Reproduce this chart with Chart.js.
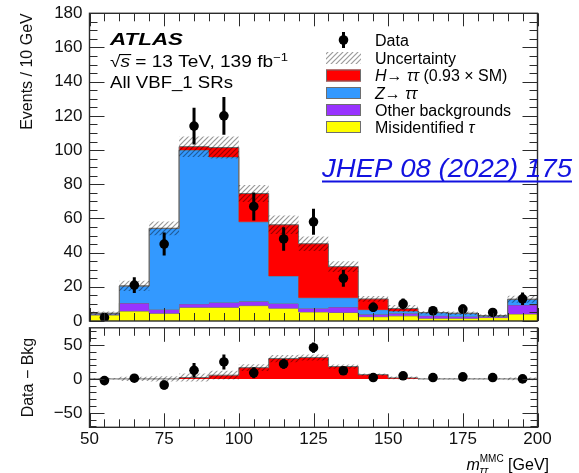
<!DOCTYPE html>
<html>
<head>
<meta charset="utf-8">
<script src="https://cdn.jsdelivr.net/npm/chart.js@4.4.0/dist/chart.umd.min.js"></script>
<style>
  html, body { margin: 0; padding: 0; background: #fff; }
  #wrap { position: relative; width: 579px; height: 473px; overflow: hidden; }
  canvas { position: absolute; left: 0; }
  #top { top: 0; }
  #bottom { top: 323px; }
</style>
</head>
<body>
<div id="wrap">
  <canvas id="top" width="579" height="335"></canvas>
  <canvas id="bottom" width="579" height="150"></canvas>
</div>
<script>
// m_tautau^MMC binning [GeV]
var binEdges = [50, 60, 70, 80, 90, 100, 110, 120, 130, 140, 150, 160, 170, 180, 190, 200];
var binCenters = [55, 65, 75, 85, 95, 105, 115, 125, 135, 145, 155, 165, 175, 185, 195];

// stacked contributions, events / 10 GeV
var misidTau = [3.5, 5.8, 4.5, 8, 8, 9, 7.5, 5.3, 5, 2.5, 3, 1.6, 1.6, 2, 4.1];
var otherBkg = [0.5, 4.7, 2.3, 2, 2.8, 2.5, 2.8, 2.2, 3.2, 1.4, 1.5, 1.5, 1.1, 0.7, 5.3];
var zTauTau = [0.5, 10, 47.4, 90, 85.2, 46.5, 16, 6.1, 5.4, 2.7, 1.3, 1.8, 1.8, 0.4, 3.3];
var hTauTau = [0, 0, 0, 2, 5.5, 16.6, 30, 31.6, 18.2, 6.3, 1.5, 0, 0, 0, 0];
var uncertainty = [1, 3, 4, 6, 6.5, 5, 5.4, 4.3, 3.2, 1.7, 2, 1, 1, 0.8, 2];

// observed events and data - background
var dataCounts = [2, 21, 45, 114, 120, 67, 48, 58, 25, 8, 10, 6, 7, 5, 13];
var dataErrors = [1.4, 4.6, 6.7, 10.7, 11, 8.2, 6.9, 7.6, 5, 2.8, 3.2, 2.4, 2.6, 2.2, 3.6];
var dataMinusBkg = [-2.5, 1, -9, 12.7, 25, 9, 22, 46, 12, 2, 4.6, 2, 3, 2, 0];

// axis ticks
var xTicks = [50, 75, 100, 125, 150, 175, 200];
var yTicksTop = [0, 20, 40, 60, 80, 100, 120, 140, 160, 180];
var yTicksBottom = [-50, 0, 50];

var FONT = "'Liberation Sans', Arial, Helvetica, sans-serif";
var RED = '#ff0000', BLUE = '#3399ff', PURPLE = '#9933ff', YELLOW = '#ffff00';
var EDGE = '#6e6e6e';

Chart.defaults.font.family = FONT;
Chart.defaults.font.size = 17;
Chart.defaults.color = '#111';

function addUp() {
    var arrs = arguments;
    return arrs[0].map(function (_, i) {
        var s = 0;
        for (var k = 0; k < arrs.length; k++) s += arrs[k][i];
        return s;
    });
}

// histogram outline: one point per bin edge, last bin repeated at the upper edge
function stepPoints(vals) {
    return binEdges.map(function (e, i) {
        return { x: e, y: vals[Math.min(i, vals.length - 1)] };
    });
}

function makeHatch() {
    var s = 5;
    var c = document.createElement('canvas');
    c.width = s; c.height = s;
    var g = c.getContext('2d');
    g.strokeStyle = 'rgba(0,0,0,0.40)';
    g.lineWidth = 1.2;
    g.beginPath();
    g.moveTo(0, s); g.lineTo(s, 0);
    g.moveTo(-1, 1); g.lineTo(1, -1);
    g.moveTo(s - 1, s + 1); g.lineTo(s + 1, s - 1);
    g.stroke();
    return document.getElementById('top').getContext('2d').createPattern(c, 'repeat');
}
var hatch = makeHatch();

function layer(label, vals, color, fill, order) {
    return {
        type: 'line', label: label, data: stepPoints(vals), stepped: true,
        fill: fill, backgroundColor: color, borderColor: EDGE, borderWidth: 1,
        pointRadius: 0, order: order
    };
}

function band(center, order) {
    var lo = center.map(function (v, i) { return v - uncertainty[i]; });
    var hi = center.map(function (v, i) { return v + uncertainty[i]; });
    return [
        { type: 'line', label: 'unc-lo', data: stepPoints(lo), stepped: true, fill: false,
          borderWidth: 0, borderColor: 'rgba(0,0,0,0)', pointRadius: 0, order: order + 1 },
        { type: 'line', label: 'Uncertainty', data: stepPoints(hi), stepped: true, fill: '-1',
          backgroundColor: hatch, borderWidth: 0, borderColor: 'rgba(0,0,0,0)', pointRadius: 0, order: order }
    ];
}

function points(vals) {
    return {
        type: 'line', label: 'Data', showLine: false,
        data: binCenters.map(function (x, i) { return { x: x, y: vals[i] }; }),
        pointRadius: 4.8, pointBackgroundColor: '#000', pointBorderColor: '#000', pointBorderWidth: 0,
        errorBars: dataErrors, order: 0
    };
}

// vertical error bars on the data points
var errorBarPlugin = {
    id: 'errorBars',
    afterDatasetsDraw: function (chart) {
        var ctx = chart.ctx, ys = chart.scales.y;
        chart.data.datasets.forEach(function (ds, i) {
            if (!ds.errorBars) return;
            var meta = chart.getDatasetMeta(i);
            ctx.save();
            ctx.strokeStyle = '#000';
            ctx.lineWidth = 3;
            ctx.beginPath();
            meta.data.forEach(function (pt, j) {
                var v = ds.data[j].y, e = ds.errorBars[j];
                ctx.moveTo(pt.x, ys.getPixelForValue(v + e));
                ctx.lineTo(pt.x, ys.getPixelForValue(v - e));
            });
            ctx.stroke();
            ctx.restore();
        });
    }
};

// ROOT-style frame with inward ticks on all four sides
var framePlugin = {
    id: 'frame',
    afterDatasetsDraw: function (chart, args, o) {
        var a = chart.chartArea, ctx = chart.ctx;
        var xs = chart.scales.x, ys = chart.scales.y;
        ctx.save();
        ctx.strokeStyle = '#2b2b2b';
        ctx.lineWidth = 1;
        ctx.beginPath();
        var v, p, len;
        for (v = xs.min; v <= xs.max + 1e-6; v += o.xMinor) {
            p = Math.round(xs.getPixelForValue(v)) + 0.5;
            len = xTicks.indexOf(v) >= 0 ? o.xMajorLen : o.xMinorLen;
            ctx.moveTo(p, a.bottom); ctx.lineTo(p, a.bottom - len);
            ctx.moveTo(p, a.top); ctx.lineTo(p, a.top + len);
        }
        for (v = Math.ceil(ys.min / o.yMinor) * o.yMinor; v <= ys.max + 1e-6; v += o.yMinor) {
            p = Math.round(ys.getPixelForValue(v)) + 0.5;
            len = o.yMajor.indexOf(v) >= 0 ? o.yMajorLen : o.yMinorLen;
            ctx.moveTo(a.left, p); ctx.lineTo(a.left + len, p);
            ctx.moveTo(a.right, p); ctx.lineTo(a.right - len, p);
        }
        ctx.stroke();
        ctx.lineWidth = 1.4;
        ctx.strokeRect(a.left, a.top, a.right - a.left, a.bottom - a.top);
        ctx.restore();
    }
};

// text pieces drawn in a row, optionally squeezed to a given width
function drawRich(ctx, parts, x, y, targetW) {
    var total = 0;
    parts.forEach(function (p) {
        ctx.font = p.font;
        p.w = ctx.measureText(p.t).width;
        total += p.w;
    });
    var k = targetW ? targetW / total : 1;
    ctx.save();
    ctx.translate(x, y);
    ctx.scale(k, 1);
    var cx = 0;
    parts.forEach(function (p) {
        ctx.font = p.font;
        ctx.fillText(p.t, cx, p.dy || 0);
        if (p.over) ctx.fillRect(cx - 1, -p.over, p.w + 2, 1.1);
        cx += p.w;
    });
    ctx.restore();
}

var f16 = '16px ' + FONT, i16 = 'italic 16px ' + FONT;

var labelsPlugin = {
    id: 'labels',
    afterDraw: function (chart) {
        var ctx = chart.ctx;
        ctx.save();
        ctx.fillStyle = '#000';
        ctx.textBaseline = 'alphabetic';
        drawRich(ctx, [{ t: 'ATLAS', font: 'bold italic 17px ' + FONT }], 110, 45, 73);
        drawRich(ctx, [
            { t: '\u221A', font: f16 },
            { t: 's', font: i16, over: 13 },
            { t: ' = 13 TeV, 139 fb', font: f16 },
            { t: '\u22121', font: '11px ' + FONT, dy: -6 }
        ], 110, 67, 178);
        drawRich(ctx, [{ t: 'All VBF_1 SRs', font: f16 }], 110, 87.5, 123);

        // legend
        var rows = [40, 58, 75.5, 93, 110, 127];
        var bx = 326, bw = 35, bh = 12, tx = 375;
        ctx.fillStyle = '#000';
        ctx.beginPath();
        ctx.arc(343.5, rows[0], 4.8, 0, Math.PI * 2);
        ctx.fill();
        ctx.fillRect(342, rows[0] - 8, 3, 16);
        ctx.fillStyle = hatch;
        ctx.fillRect(bx, rows[1] - bh / 2, bw, bh);
        [RED, BLUE, PURPLE, YELLOW].forEach(function (c, i) {
            var y = rows[i + 2] - bh / 2;
            ctx.fillStyle = c;
            ctx.fillRect(bx, y, bw, bh);
            ctx.strokeStyle = EDGE;
            ctx.lineWidth = 1;
            ctx.strokeRect(bx + 0.5, y + 0.5, bw - 1, bh - 1);
        });
        ctx.fillStyle = '#000';
        var texts = [
            [{ t: 'Data', font: f16 }],
            [{ t: 'Uncertainty', font: f16 }],
            [{ t: 'H', font: i16 }, { t: '\u2192 ', font: f16 }, { t: '\u03C4\u03C4', font: i16 }, { t: ' (0.93 \u00D7 SM)', font: f16 }],
            [{ t: 'Z', font: i16 }, { t: '\u2192 ', font: f16 }, { t: '\u03C4\u03C4', font: i16 }],
            [{ t: 'Other backgrounds', font: f16 }],
            [{ t: 'Misidentified ', font: f16 }, { t: '\u03C4', font: i16 }]
        ];
        texts.forEach(function (parts, i) { drawRich(ctx, parts, tx, rows[i] + 5.7); });

        // journal reference
        ctx.fillStyle = '#1212e0';
        drawRich(ctx, [{ t: 'JHEP 08 (2022) 175', font: 'italic 26px ' + FONT }], 322, 177, 250);
        ctx.fillRect(322, 180.5, 250, 2);
        ctx.restore();
    }
};

var xTitlePlugin = {
    id: 'xTitle',
    afterDraw: function (chart) {
        var ctx = chart.ctx;
        ctx.save();
        ctx.fillStyle = '#000';
        var base = 147;
        var fm = 'italic 16px ' + FONT, fs = 'italic 11px ' + FONT, fsup = '10px ' + FONT;
        ctx.font = fm; var wm = ctx.measureText('m').width;
        ctx.font = fs; var wsub = ctx.measureText('\u03C4\u03C4').width;
        ctx.font = fsup; var wsup = ctx.measureText('MMC').width;
        ctx.font = f16; var wg = ctx.measureText(' [GeV]').width;
        var x = 549 - (wm + Math.max(wsub, wsup) + wg);
        ctx.font = fm; ctx.fillText('m', x, base);
        ctx.font = fs; ctx.fillText('\u03C4\u03C4', x + wm, base + 4);
        ctx.font = fsup; ctx.fillText('MMC', x + wm, base - 8);
        ctx.font = f16; ctx.fillText(' [GeV]', x + wm + Math.max(wsub, wsup), base);
        ctx.restore();
    }
};

function fixedTicks(list) {
    return function (scale) {
        scale.ticks = list.map(function (v) { return { value: v }; });
    };
}

// keep the plot frame where it is: no extra room reserved for edge labels
function noEdgePadding(s) {
    s.paddingTop = 0; s.paddingBottom = 0; s.paddingLeft = 0; s.paddingRight = 0;
}

var topTotal = addUp(misidTau, otherBkg, zTauTau, hTauTau);

new Chart(document.getElementById('top'), {
    data: {
        datasets: [
            layer('Misidentified tau', misidTau, YELLOW, 'origin', 7),
            layer('Other backgrounds', addUp(misidTau, otherBkg), PURPLE, '-1', 6),
            layer('Z->tautau', addUp(misidTau, otherBkg, zTauTau), BLUE, '-1', 5),
            layer('H->tautau', topTotal, RED, '-1', 4)
        ].concat(band(topTotal, 2), [points(dataCounts)])
    },
    options: {
        responsive: false,
        animation: false,
        layout: { padding: { left: 0, right: 41.5, top: 13.3, bottom: 0 } },
        plugins: {
            legend: { display: false },
            tooltip: { enabled: false },
            frame: { xMinor: 5, xMajorLen: 13, xMinorLen: 8, yMinor: 5, yMajor: yTicksTop, yMajorLen: 15, yMinorLen: 8 }
        },
        scales: {
            x: {
                type: 'linear', min: 50, max: 200,
                grid: { display: false }, border: { display: false },
                ticks: { display: false },
                afterFit: function (s) { s.height = 14; noEdgePadding(s); }
            },
            y: {
                type: 'linear', min: 0, max: 180,
                grid: { display: false, drawTicks: false }, border: { display: false },
                ticks: { padding: 7 },
                afterBuildTicks: fixedTicks(yTicksTop),
                afterFit: function (s) { s.width = 89.5; noEdgePadding(s); },
                title: { display: true, text: 'Events / 10 GeV', align: 'end', font: { size: 16 }, padding: { top: 18, bottom: 0 } }
            }
        }
    },
    plugins: [errorBarPlugin, framePlugin, labelsPlugin]
});

new Chart(document.getElementById('bottom'), {
    data: {
        datasets: [
            layer('H->tautau', hTauTau, RED, 'origin', 4)
        ].concat(band(hTauTau, 2), [points(dataMinusBkg)])
    },
    options: {
        responsive: false,
        animation: false,
        layout: { padding: { left: 0, right: 41.5, top: 2.3, bottom: 0 } },
        plugins: {
            legend: { display: false },
            tooltip: { enabled: false },
            frame: { xMinor: 5, xMajorLen: 14, xMinorLen: 8, yMinor: 10, yMajor: yTicksBottom, yMajorLen: 15, yMinorLen: 7 }
        },
        scales: {
            x: {
                type: 'linear', min: 50, max: 200,
                grid: { display: false, drawTicks: false }, border: { display: false },
                ticks: { padding: 2, autoSkip: false, maxRotation: 0 },
                afterBuildTicks: fixedTicks(xTicks),
                afterFit: function (s) { s.height = 45.7; noEdgePadding(s); }
            },
            y: {
                type: 'linear', min: -71.3, max: 75.3,
                grid: { display: false, drawTicks: false }, border: { display: false },
                ticks: {
                    padding: 7,
                    callback: function (v) { return v < 0 ? '\u2212' + Math.abs(v) : String(v); }
                },
                afterBuildTicks: fixedTicks(yTicksBottom),
                afterFit: function (s) { s.width = 89.5; noEdgePadding(s); },
                title: { display: true, text: 'Data \u2212 Bkg', align: 'center', font: { size: 16 }, padding: { top: 19, bottom: 0 } }
            }
        }
    },
    plugins: [errorBarPlugin, framePlugin, xTitlePlugin]
});
</script>
</body>
</html>
